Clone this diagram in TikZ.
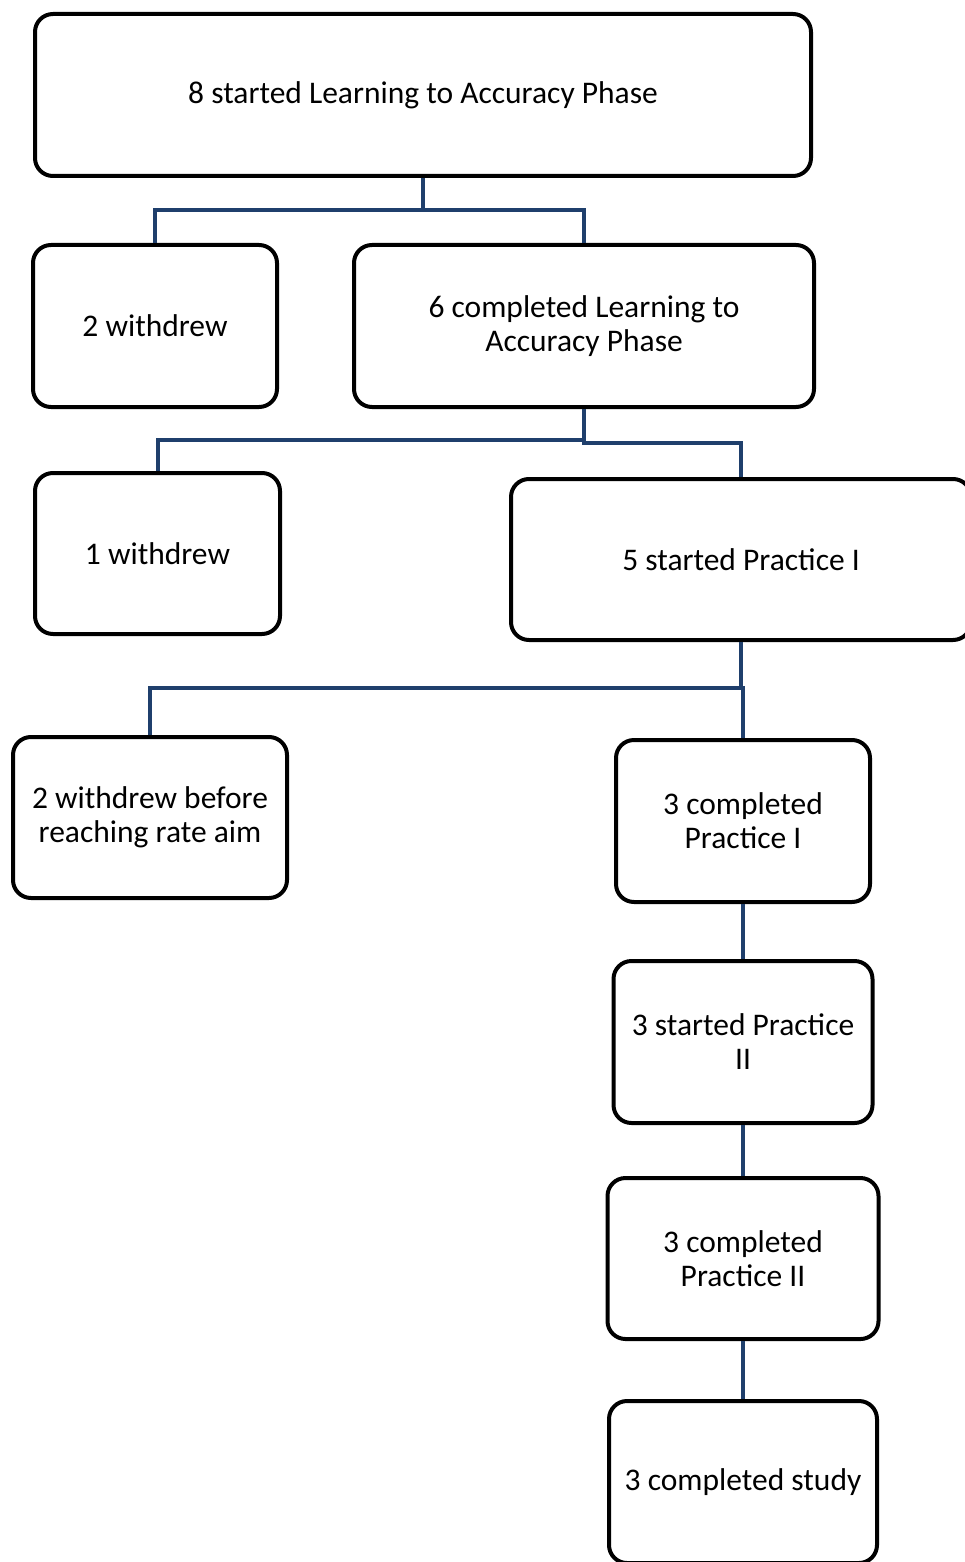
\documentclass[tikz,border=0pt]{standalone}
\usepackage{fontspec}
\setmainfont{Carlito}
\definecolor{linkblue}{RGB}{31,63,108}
\begin{document}
\begin{tikzpicture}[x=1pt,y=1pt,
  box/.style={draw=black, line width=4pt, rounded corners=18pt, fill=white,
    align=center, inner sep=0pt, font=\fontsize{31.5}{34}\selectfont},
  link/.style={draw=linkblue, line width=4pt}]
\useasboundingbox (0,0) rectangle (965,-1562);
\node[box, minimum width=776pt, minimum height=162pt] (b1) at (423,-95) {8 started Learning to Accuracy Phase};
\node[box, minimum width=244pt, minimum height=162pt] (b2) at (155,-326) {2 withdrew};
\node[box, minimum width=460pt, minimum height=162pt] (b3) at (584,-326) {6 completed Learning to\\Accuracy Phase};
\node[box, minimum width=245pt, minimum height=161pt] (b4) at (157.5,-553.5) {1 withdrew};
\node[box, minimum width=460pt, minimum height=161pt] (b5) at (741,-559.5) {5 started Practice I};
\node[box, minimum width=274pt, minimum height=161pt] (b6) at (150,-817.5) {2 withdrew before\\reaching rate aim};
\node[box, minimum width=254pt, minimum height=162pt] (b7) at (743,-821) {3 completed\\Practice I};
\node[box, minimum width=259pt, minimum height=162pt] (b8) at (743,-1042) {3 started Practice\\II};
\node[box, minimum width=271pt, minimum height=161pt] (b9) at (743,-1258.5) {3 completed\\Practice II};
\node[box, minimum width=268pt, minimum height=162pt] (b10) at (743,-1482) {3 completed study};
\draw[link] (b1.south) -- ++(0,-32) -| (b2.north);
\draw[link] (b1.south) -- ++(0,-32) -| (b3.north);
\draw[link] (b3.south) -- ++(0,-31) -| (b4.north);
\draw[link] (b3.south) -- ++(0,-34) -| (b5.north);
\draw[link] (b5.south) -- ++(0,-46) -| (b6.north);
\draw[link] (b5.south) -- ++(0,-46) -| (b7.north);
\draw[link] (b7.south) -- (b8.north);
\draw[link] (b8.south) -- (b9.north);
\draw[link] (b9.south) -- (b10.north);
\end{tikzpicture}
\end{document}
